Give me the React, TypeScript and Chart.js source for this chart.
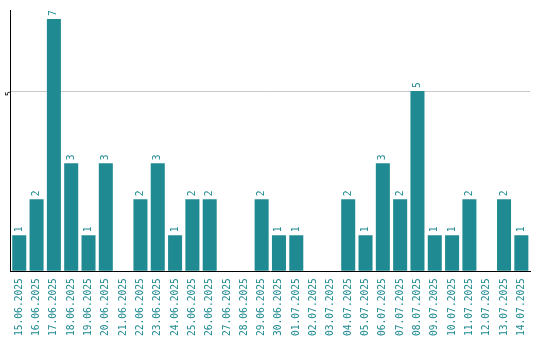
import React, { useEffect, useRef } from "react";
import { Chart, registerables } from "chart.js";

Chart.register(...registerables);

const categories = [
  "15.06.2025", "16.06.2025", "17.06.2025", "18.06.2025", "19.06.2025",
  "20.06.2025", "21.06.2025", "22.06.2025", "23.06.2025", "24.06.2025",
  "25.06.2025", "26.06.2025", "27.06.2025", "28.06.2025", "29.06.2025",
  "30.06.2025", "01.07.2025", "02.07.2025", "03.07.2025", "04.07.2025",
  "05.07.2025", "06.07.2025", "07.07.2025", "08.07.2025", "09.07.2025",
  "10.07.2025", "11.07.2025", "12.07.2025", "13.07.2025", "14.07.2025",
];
const values = [1, 2, 7, 3, 1, 3, 0, 2, 3, 1, 2, 2, 0, 0, 2, 1, 1, 0, 0, 2, 1, 3, 2, 5, 1, 1, 2, 0, 2, 1];

const TEAL = "#1f8a91";
const MONO = "'DejaVu Sans Mono', monospace";

const barLabels = {
  id: "barLabels",
  afterDatasetsDraw(chart: any) {
    const ctx = chart.ctx;
    const meta = chart.getDatasetMeta(0);
    ctx.save();
    ctx.fillStyle = TEAL;
    ctx.font = `9.6px ${MONO}`;
    ctx.textAlign = "left";
    ctx.textBaseline = "middle";
    meta.data.forEach((el: any, i: number) => {
      const v = values[i];
      if (!v) return;
      ctx.save();
      ctx.translate(el.x, el.y - 3);
      ctx.rotate(-Math.PI / 2);
      ctx.fillText(String(v), 0, 0);
      ctx.restore();
    });
    ctx.restore();
  },
};

export default function App() {
  const ref = useRef<HTMLCanvasElement>(null);
  useEffect(() => {
    document.body.style.margin = "0";
    const chart = new Chart(ref.current!, {
      type: "bar",
      data: {
        labels: categories,
        datasets: [
          {
            data: values,
            backgroundColor: TEAL,
            barPercentage: 0.9,
            categoryPercentage: 0.9,
          },
        ],
      },
      options: {
        animation: false,
        responsive: false,
        layout: { padding: { top: 10, right: 8, bottom: -3, left: -1 } },
        plugins: { legend: { display: false }, tooltip: { enabled: false } },
        scales: {
          x: {
            grid: { display: false, drawTicks: false },
            border: { color: "#000", width: 1 },
            ticks: {
              color: TEAL,
              font: { family: MONO, size: 9.6 },
              minRotation: 90,
              maxRotation: 90,
              padding: 7,
              autoSkip: false,
            },
          },
          y: {
            min: 0,
            max: 7.25,
            grid: { color: (c: any) => (c.tick && c.tick.value === 5 ? "#c8c8c8" : "rgba(0,0,0,0)"), drawTicks: false },
            border: { color: "#000", width: 1 },
            ticks: {
              stepSize: 5,
              color: "#000",
              font: { family: MONO, size: 8 },
              minRotation: 90,
              maxRotation: 90,
              padding: 1,
              callback: (v: any) => (v === 5 ? "5" : ""),
            },
          },
        },
      },
      plugins: [barLabels],
    });
    return () => chart.destroy();
  }, []);
  return <canvas ref={ref} width={540} height={340} style={{ display: "block" }} />;
}
